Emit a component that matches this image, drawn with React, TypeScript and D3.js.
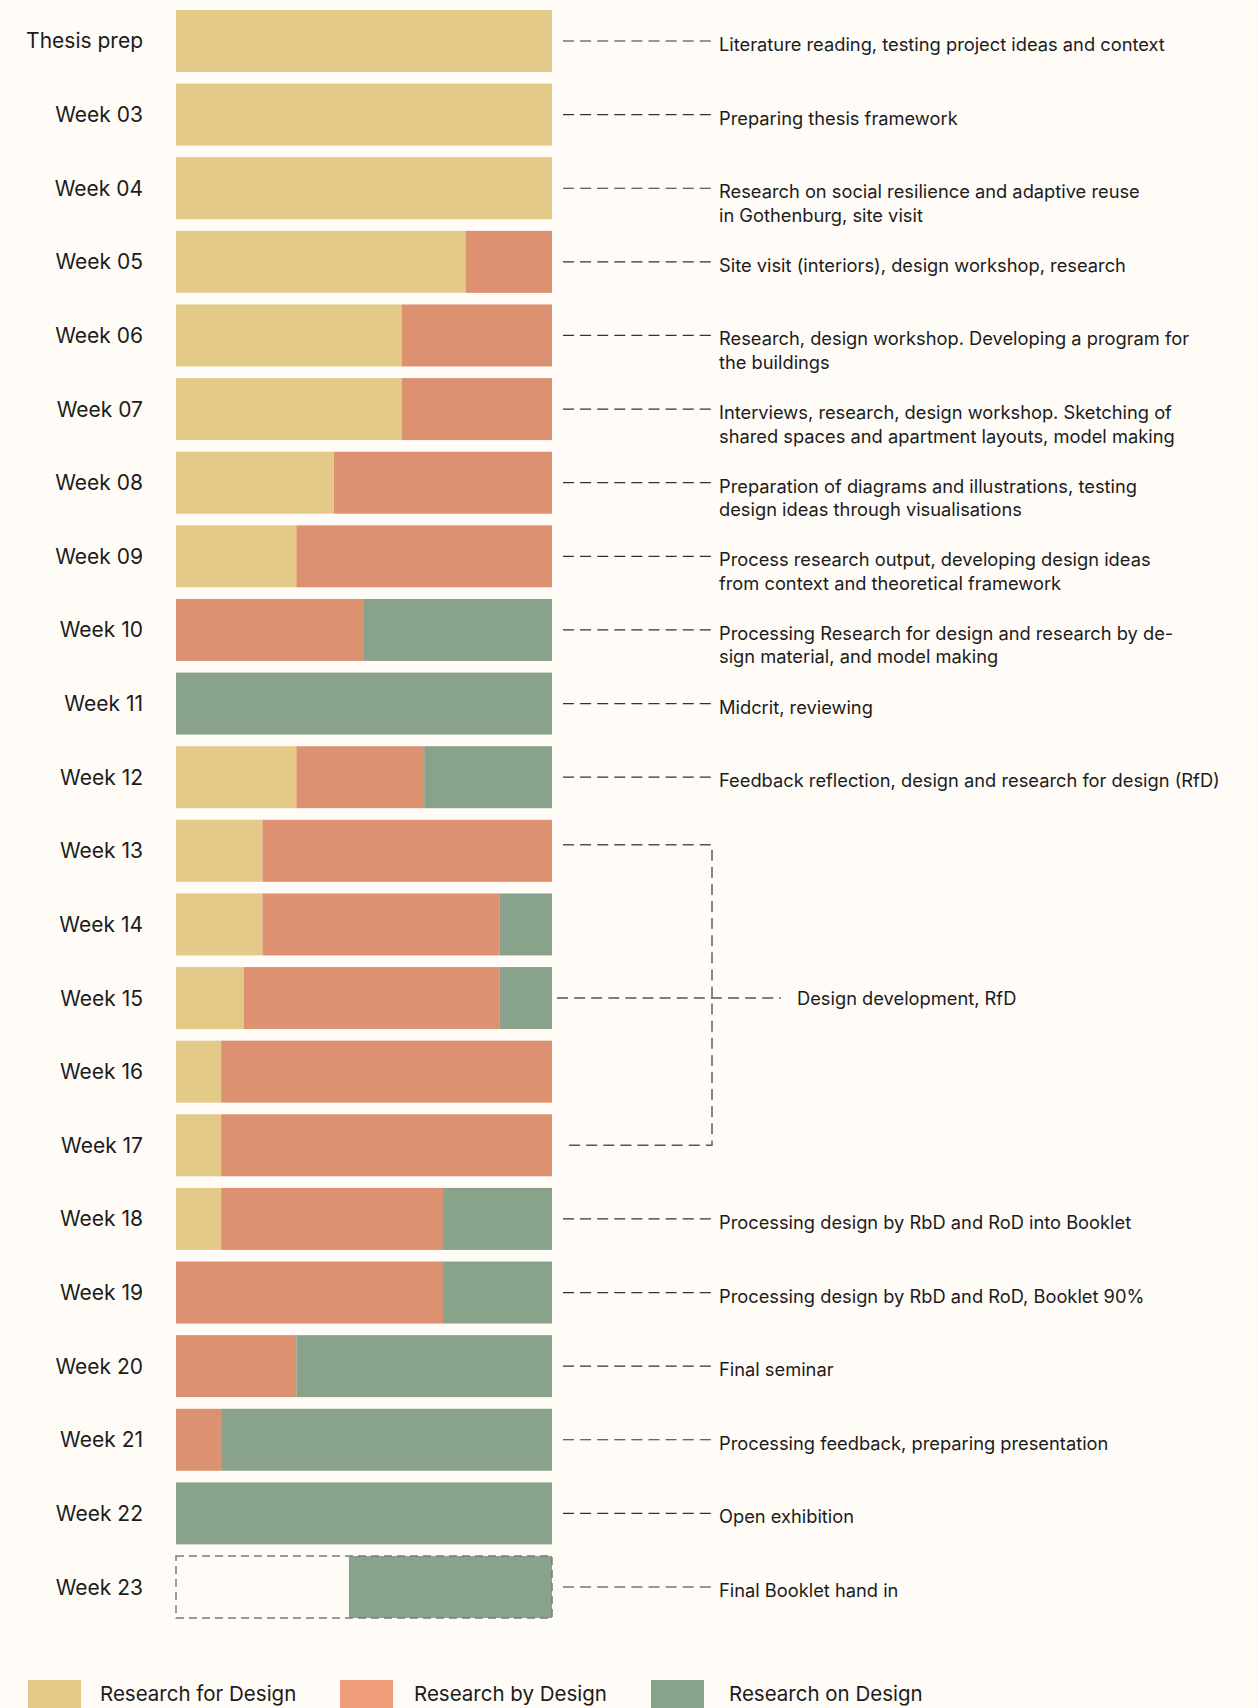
import { useEffect } from 'react'
import * as d3 from 'd3'

// rows, top to bottom
const weeks = [
  'Thesis prep', 'Week 03', 'Week 04', 'Week 05', 'Week 06', 'Week 07', 'Week 08',
  'Week 09', 'Week 10', 'Week 11', 'Week 12', 'Week 13', 'Week 14', 'Week 15',
  'Week 16', 'Week 17', 'Week 18', 'Week 19', 'Week 20', 'Week 21', 'Week 22', 'Week 23',
]

// share of each week (out of 100)
const researchFor = [100, 100, 100, 77, 60, 60, 42, 32, 0, 0, 32, 23, 23, 18, 12, 12, 12, 0, 0, 0, 0, 0]
const researchBy = [0, 0, 0, 23, 40, 40, 58, 68, 50, 0, 34, 77, 63, 68, 88, 88, 59, 71, 32, 12, 0, 0]
const pending = [0, 0, 0, 0, 0, 0, 0, 0, 0, 0, 0, 0, 0, 0, 0, 0, 0, 0, 0, 0, 0, 46]
const researchOn = [0, 0, 0, 0, 0, 0, 0, 0, 50, 100, 34, 0, 14, 14, 0, 0, 29, 29, 68, 88, 100, 54]

const notes: string[][] = [
  ['Literature reading, testing project ideas and context'],
  ['Preparing thesis framework'],
  ['Research on social resilience and adaptive reuse', 'in Gothenburg, site visit'],
  ['Site visit (interiors), design workshop, research'],
  ['Research, design workshop. Developing a program for', 'the buildings'],
  ['Interviews, research, design workshop. Sketching of', 'shared spaces and apartment layouts, model making'],
  ['Preparation of diagrams and illustrations, testing', 'design ideas through visualisations'],
  ['Process research output, developing design ideas', 'from context and theoretical framework'],
  ['Processing Research for design and research by de-', 'sign material, and model making'],
  ['Midcrit, reviewing'],
  ['Feedback reflection, design and research for design (RfD)'],
  [], [], [], [], [],
  ['Processing design by RbD and RoD into Booklet'],
  ['Processing design by RbD and RoD, Booklet 90%'],
  ['Final seminar'],
  ['Processing feedback, preparing presentation'],
  ['Open exhibition'],
  ['Final Booklet hand in'],
]

const groupNote = 'Design development, RfD'
const groupWeeks = ['Week 13', 'Week 15', 'Week 17']

const keys = ['for', 'by', 'pending', 'on']
const legendLabels = ['Research for Design', 'Research by Design', 'Research on Design']

const barColors: Record<string, string> = {
  for: '#E3CA89',
  by: '#DC9170',
  pending: 'none',
  on: '#89A28B',
}
const legendColors = ['#E3CA89', '#EE9C79', '#89A28B']

const W = 1258
const H = 1708
const FONT = 'Inter, "Noto Sans", sans-serif'

export default function App() {
  useEffect(() => {
    document.body.style.margin = '0'
    document.body.style.background = '#FFFBF6'
  }, [])

  const rows = weeks.map((w, i) => ({
    week: w,
    for: researchFor[i],
    by: researchBy[i],
    pending: pending[i],
    on: researchOn[i],
  }))

  const stack = d3.stack<any>().keys(keys)
  const series = stack(rows)

  const x = d3.scaleLinear().domain([0, 100]).range([176, 552])
  const y = d3.scaleBand<string>().domain(weeks).range([10, 1618]).paddingInner(0.158).paddingOuter(0)
  const bw = y.bandwidth()
  const mid = (w: string) => (y(w) ?? 0) + bw / 2

  const dash = '11 6.1'
  const leaderX0 = 563
  const leaderX1 = 712
  const textX = 719

  const gTop = mid(groupWeeks[0])
  const gMid = mid(groupWeeks[1])
  const gBot = mid(groupWeeks[2])
  const lastWeek = weeks[weeks.length - 1]

  return (
    <svg
      width={W}
      height={H}
      style={{ position: 'absolute', left: 0, top: 0, display: 'block', background: '#FFFBF6' }}
      fontFamily={FONT}
    >
      <rect x={0} y={0} width={W} height={H} fill="#FFFBF6" />

      {/* stacked bars */}
      {series.map(s => (
        <g key={s.key} fill={barColors[s.key]}>
          {s.map((d, i) =>
            d[1] - d[0] > 0 && s.key !== 'pending' ? (
              <rect
                key={i}
                x={x(d[0])}
                y={y(weeks[i])}
                width={x(d[1]) - x(d[0])}
                height={bw}
              />
            ) : null
          )}
        </g>
      ))}

      {/* dashed outline of the unfinished last week */}
      <rect
        x={x(0)}
        y={y(lastWeek)}
        width={x(100) - x(0)}
        height={bw}
        fill="none"
        stroke="#7a7a7a"
        strokeWidth={1.5}
        strokeDasharray="8 5"
      />

      {/* row labels */}
      {weeks.map(w => (
        <text
          key={w}
          x={143}
          y={mid(w)}
          textAnchor="end"
          dominantBaseline="central"
          fontSize={21}
          fill="#1c1c1c"
        >
          {w}
        </text>
      ))}

      {/* leaders and notes */}
      {weeks.map((w, i) =>
        notes[i].length ? (
          <g key={w}>
            <line
              x1={leaderX0}
              x2={leaderX1}
              y1={mid(w)}
              y2={mid(w)}
              stroke="#333"
              strokeWidth={1.2}
              strokeDasharray={dash}
            />
            {notes[i].map((line, j) => (
              <text
                key={j}
                x={textX}
                y={mid(w) + 3 + j * 23.5}
                dominantBaseline="central"
                fontSize={18.3}
                fill="#1c1c1c"
              >
                {line}
              </text>
            ))}
          </g>
        ) : null
      )}

      {/* bracket for the design development weeks */}
      <path
        d={`M${leaderX0},${gTop - 6}H${leaderX1}V${gBot}H${leaderX0}`}
        fill="none"
        stroke="#555"
        strokeWidth={1.4}
        strokeDasharray={dash}
      />
      <line
        x1={557}
        x2={781}
        y1={gMid}
        y2={gMid}
        stroke="#555"
        strokeWidth={1.4}
        strokeDasharray={dash}
      />
      <text x={797} y={gMid} dominantBaseline="central" fontSize={18.3} fill="#1c1c1c">
        {groupNote}
      </text>

      {/* legend */}
      {legendLabels.map((l, i) => {
        const lx = [28, 340, 651][i]
        const tx = [100, 414, 729][i]
        return (
          <g key={l}>
            <rect x={lx} y={1680} width={53} height={30} fill={legendColors[i]} />
            <text x={tx} y={1693} dominantBaseline="central" fontSize={20.5} fill="#1c1c1c">
              {l}
            </text>
          </g>
        )
      })}
    </svg>
  )
}
